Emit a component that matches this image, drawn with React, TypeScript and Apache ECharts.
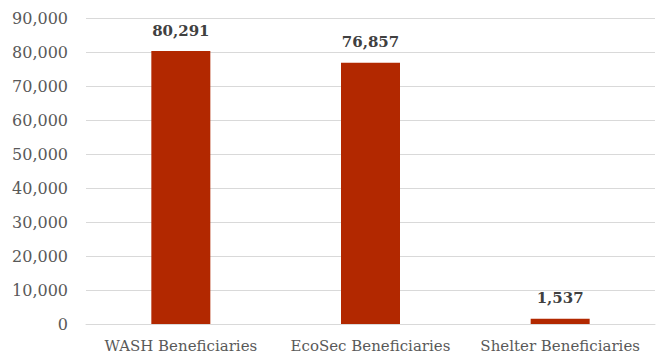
import React, { useEffect, useRef } from "react";
import * as echarts from "echarts";

const categories = ["WASH Beneficiaries", "EcoSec Beneficiaries", "Shelter Beneficiaries"];
const values = [80291, 76857, 1537];

export default function App() {
  const ref = useRef<HTMLDivElement>(null);
  useEffect(() => {
    const chart = echarts.init(ref.current!, null, { renderer: "svg" });
    const font = "'DejaVu Serif', serif";
    chart.setOption({
      animation: false,
      grid: { left: 86, right: 8, top: 18, bottom: 37, containLabel: false },
      xAxis: {
        type: "category",
        data: categories,
        axisLine: { show: true, lineStyle: { color: "#D9D9D9", width: 1 } },
        axisTick: { show: false },
        axisLabel: { interval: 0, color: "#595959", fontFamily: font, fontSize: 15, margin: 14 },
      },
      yAxis: {
        type: "value",
        min: 0,
        max: 90000,
        interval: 10000,
        axisLine: { show: false },
        axisTick: { show: false },
        splitLine: { lineStyle: { color: "#D9D9D9", width: 1 } },
        axisLabel: {
          color: "#595959",
          fontFamily: font,
          fontSize: 16,
          margin: 18,
          formatter: (v: number) => v.toLocaleString("en-US"),
        },
      },
      series: [
        {
          type: "bar",
          data: values,
          barWidth: 59,
          itemStyle: { color: "#B22800" },
          label: {
            show: true,
            position: "top",
            distance: 13,
            color: "#404040",
            fontFamily: font,
            fontWeight: "bold",
            fontSize: 15,
            formatter: (p: any) => Number(p.value).toLocaleString("en-US"),
          },
        },
      ],
    });
    return () => chart.dispose();
  }, []);
  return <div ref={ref} style={{ width: 663, height: 361, position: "absolute", left: 0, top: 0 }} />;
}
